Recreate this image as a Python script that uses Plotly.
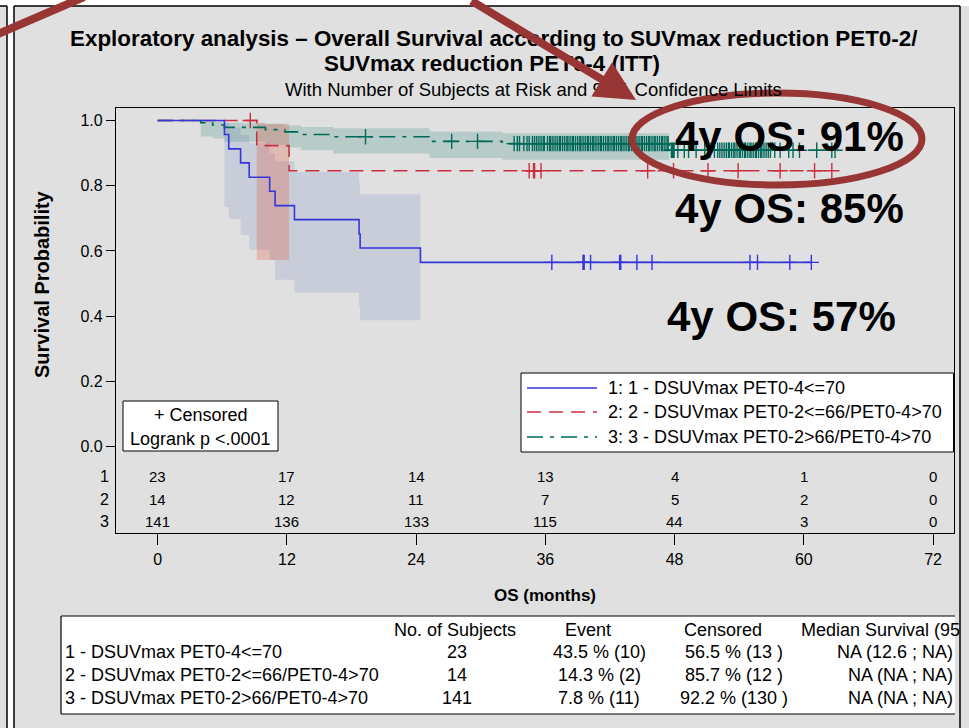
import numpy as np
import plotly.graph_objects as go

W, H = 969, 728

# ---------------- data ----------------
x_ticks = [0, 12, 24, 36, 48, 60, 72]
y_ticks = [0.0, 0.2, 0.4, 0.6, 0.8, 1.0]
y_ticklabels = ["0.0", "0.2", "0.4", "0.6", "0.8", "1.0"]

legend_labels = ["1: 1 - DSUVmax PET0-4<=70",
                 "2: 2 - DSUVmax PET0-2<=66/PET0-4>70",
                 "3: 3 - DSUVmax PET0-2>66/PET0-4>70"]

# group 1
g1_step_t = [0, 6.2, 6.6, 7.7, 8.5, 10.4, 10.9, 12.7, 18.7, 18.8, 24.4]
g1_step_s = [1.0, 0.957, 0.913, 0.870, 0.826, 0.783, 0.739, 0.696, 0.652, 0.609, 0.565]
g1_end = 60.7
g1_cens = [36.6, 39.5, 39.55, 39.6, 40.2, 42.9, 43.0, 44.5, 45.9, 55.0, 55.7, 58.7, 60.7]
g1_band_t = [6.2, 6.6, 7.7, 8.5, 10.4, 10.9, 12.7, 18.7, 18.8, 24.4]
g1_band_lo = [0.735, 0.698, 0.649, 0.604, 0.573, 0.512, 0.472, 0.43, 0.388, 0.388]
g1_band_hi = [0.994, 0.978, 0.956, 0.93, 0.90, 0.875, 0.842, 0.81, 0.774, 0.774]

# group 2
g2_step_t = [0, 9.2, 12.2]
g2_step_s = [1.0, 0.923, 0.846]
g2_end = 62.6
g2_cens = [8.6, 34.5, 34.9, 35.0, 35.6, 45.5, 47.9, 51.1, 53.9, 57.8, 61.0, 62.6]
g2_band_t = [9.2, 12.2]
g2_band_lo = [0.572, 0.572]
g2_band_hi = [0.99, 0.99]

# group 3
g3_step_t = [0, 4.0, 5.1, 6.2, 10.0, 11.8, 13.3, 16.3, 25.2, 25.3, 32.0, 47.5]
g3_step_s = [1.0, 0.993, 0.986, 0.979, 0.972, 0.965, 0.957, 0.950, 0.943, 0.936, 0.929, 0.909]
g3_end = 62.9
g3_cens = [19.3, 27.3, 29.7, 33.1, 33.4, 33.6, 34.0, 34.3, 34.5, 34.8, 35.0, 35.2, 35.4, 35.6, 35.8, 35.9,
           36.2, 36.4, 36.5, 36.7, 36.9, 37.1, 37.3, 37.4, 37.6, 37.8,
           38.0, 38.1, 38.3, 38.5, 38.6, 38.8, 39.0, 39.2, 39.3, 39.5,
           39.7, 39.9, 40.0, 40.2, 40.4, 40.5, 40.7, 40.9, 41.1, 41.2,
           41.4, 41.6, 41.8, 41.9, 42.1, 42.3, 42.4, 42.6, 42.8, 43.0,
           43.1, 43.3, 43.5, 43.7, 43.8, 44.0, 44.2, 44.3, 44.5, 44.7,
           44.9, 45.0, 45.2, 45.4, 45.6, 45.7, 45.9, 46.1, 46.2, 46.4,
           46.6, 46.8, 46.9, 47.1, 47.3, 47.4, 47.7, 47.8, 47.9, 47.95,
           48.3, 48.9, 49.3, 50.0, 50.8, 51.3, 51.7, 52.0, 52.2, 52.4,
           52.6, 52.8, 53.0, 53.1, 53.3, 53.5, 53.6, 53.8, 54.0, 54.1,
           54.3, 54.5, 54.6, 54.8, 55.0, 55.1, 55.3, 55.5, 55.6, 55.8,
           56.0, 56.1, 56.3, 56.5, 56.7, 56.9, 57.3, 57.8, 58.6, 59.0,
           59.6, 61.2, 62.6, 62.9]
g3_band_t = [4.0, 5.1, 6.2, 10.0, 11.8, 13.3, 16.3, 25.2, 25.3, 32.0, 47.5]
g3_band_lo = [0.951, 0.945, 0.935, 0.926, 0.917, 0.909, 0.899, 0.892, 0.885, 0.880, 0.880]
g3_band_hi = [0.999, 0.996, 0.993, 0.989, 0.985, 0.980, 0.976, 0.971, 0.966, 0.961, 0.961]

# number at risk
risk_g1 = [23, 17, 14, 13, 4, 1, 0]
risk_g2 = [14, 12, 11, 7, 5, 2, 0]
risk_g3 = [141, 136, 133, 115, 44, 3, 0]

os_labels = ["4y OS: 91%", "4y OS: 85%", "4y OS: 57%"]

tbl_header = ["No. of Subjects", "Event", "Censored", "Median Survival (95"]
tbl_groups = ["1 - DSUVmax PET0-4<=70", "2 - DSUVmax PET0-2<=66/PET0-4>70", "3 - DSUVmax PET0-2>66/PET0-4>70"]
tbl_n = ["23", "14", "141"]
tbl_event = ["43.5 % (10)", "14.3 % (2)", "7.8 % (11)"]
tbl_cens = ["56.5 % (13 )", "85.7 % (12 )", "92.2 % (130 )"]
tbl_median = ["NA (12.6 ; NA)", "NA (NA ; NA)", "NA (NA ; NA)"]

# ---------------- styles ----------------
C1, C2, C3 = "#3535dc", "#c8303f", "#00695a"
B1, B2, B3 = "rgba(45,80,170,0.13)", "rgba(225,70,45,0.25)", "rgba(20,120,110,0.20)"
D2 = "14px,8px"
D3 = "16px,7px,4px,7px"
ANN = "#983535"
REG = "Liberation Sans, Arial, Helvetica, sans-serif"


def X(px):
    return px / W


def Y(py):
    return 1 - py / H


def step_lookup(ts, ss, c):
    i = int(np.searchsorted(ts, c, side="right")) - 1
    return ss[i]


fig = go.Figure()

# confidence bands
for bt, lo, hi, col in [(g3_band_t, g3_band_lo, g3_band_hi, B3),
                        (g1_band_t, g1_band_lo, g1_band_hi, B1),
                        (g2_band_t, g2_band_lo, g2_band_hi, B2)]:
    fig.add_trace(go.Scatter(x=bt, y=lo, mode="lines", line=dict(width=0, shape="hv"),
                             hoverinfo="skip", showlegend=False))
    fig.add_trace(go.Scatter(x=bt, y=hi, mode="lines", line=dict(width=0, shape="hv"),
                             fill="tonexty", fillcolor=col, hoverinfo="skip", showlegend=False))

# survival curves + censor marks
for st, ss, end, cens, col, dash in [(g3_step_t, g3_step_s, g3_end, g3_cens, C3, D3),
                                     (g2_step_t, g2_step_s, g2_end, g2_cens, C2, D2),
                                     (g1_step_t, g1_step_s, g1_end, g1_cens, C1, "solid")]:
    fig.add_trace(go.Scatter(x=st + [end], y=ss + [ss[-1]], mode="lines",
                             line=dict(color=col, width=1.6, dash=dash, shape="hv"),
                             showlegend=False))
    cy = [step_lookup(st, ss, c) for c in cens]
    fig.add_trace(go.Scatter(x=cens, y=cy, mode="markers",
                             marker=dict(symbol="cross-thin-open", size=11, color=col,
                                         line=dict(color=col, width=1.4)),
                             showlegend=False))

shapes = []
ann = []

# background panels
shapes.append(dict(type="rect", xref="paper", yref="paper", x0=X(0), x1=X(7), y0=Y(728), y1=Y(6),
                   fillcolor="#e0e0e0", line=dict(width=0), layer="below"))
shapes.append(dict(type="rect", xref="paper", yref="paper", x0=X(14), x1=X(969), y0=Y(728), y1=Y(6),
                   fillcolor="#e0e0e0", line=dict(width=0), layer="below"))
for (xa, ya, xb, yb) in [(7, 6, 7, 728), (14, 6, 14, 728), (0, 6, 7, 6), (14, 6, 960, 6), (960, 6, 960, 728)]:
    shapes.append(dict(type="line", xref="paper", yref="paper", x0=X(xa), y0=Y(ya), x1=X(xb), y1=Y(yb),
                       line=dict(color="black", width=1.5), layer="below"))

# legend box
LF = dict(family=REG, size=18, color="black")
shapes.append(dict(type="rect", xref="paper", yref="paper", x0=X(521), x1=X(953.5), y0=Y(452), y1=Y(373),
                   fillcolor="white", line=dict(color="black", width=1)))
for i, (col, dash) in enumerate([(C1, "solid"), (C2, D2), (C3, D3)]):
    yy = [388, 412, 437][i]
    shapes.append(dict(type="line", xref="paper", yref="paper", x0=X(527), x1=X(597), y0=Y(yy), y1=Y(yy),
                       line=dict(color=col, width=1.6, dash=dash)))
    ann.append(dict(x=X(606), y=Y(yy), xref="paper", yref="paper", text=legend_labels[i], showarrow=False,
                    xanchor="left", yanchor="middle", font=LF))

# censored box
shapes.append(dict(type="rect", xref="paper", yref="paper", x0=X(123), x1=X(278), y0=Y(451), y1=Y(401),
                   fillcolor="white", line=dict(color="black", width=1)))
ann.append(dict(x=X(200.5), y=Y(415), xref="paper", yref="paper", text="+ Censored", showarrow=False,
                xanchor="center", yanchor="middle", font=LF))
ann.append(dict(x=X(200.5), y=Y(439), xref="paper", yref="paper", text="Logrank p <.0001", showarrow=False,
                xanchor="center", yanchor="middle", font=LF))

# number at risk
risk_y = [-0.092, -0.161, -0.230]
RF = dict(family=REG, size=15, color="black")
for gi, row in enumerate([risk_g1, risk_g2, risk_g3]):
    ann.append(dict(x=X(104), y=risk_y[gi], xref="paper", yref="y", text=str(gi + 1), showarrow=False,
                    xanchor="center", yanchor="middle", font=dict(family=REG, size=16, color="black")))
    for t, v in zip(x_ticks, row):
        ann.append(dict(x=t, y=risk_y[gi], xref="x", yref="y", text=str(v), showarrow=False,
                        xanchor="center", yanchor="middle", font=RF))

# axis titles
ann.append(dict(x=X(545), y=Y(595), xref="paper", yref="paper", text="<b>OS (months)</b>", showarrow=False,
                xanchor="center", yanchor="middle", font=dict(family=REG, size=17, color="black")))
ann.append(dict(x=X(42), y=Y(284), xref="paper", yref="paper", text="<b>Survival Probability</b>",
                showarrow=False, textangle=-90, xanchor="center", yanchor="middle",
                font=dict(family=REG, size=20, color="black")))

# bottom table
shapes.append(dict(type="rect", xref="paper", yref="paper", x0=X(61), x1=X(955), y0=Y(714), y1=Y(616),
                   fillcolor="white", line=dict(width=0)))
for (xa, ya, xb, yb) in [(61, 616, 955, 616), (61, 714, 955, 714), (61, 616, 61, 714)]:
    shapes.append(dict(type="line", xref="paper", yref="paper", x0=X(xa), y0=Y(ya), x1=X(xb), y1=Y(yb),
                       line=dict(color="black", width=1.2)))
TF = dict(family=REG, size=18, color="black")
ann.append(dict(x=X(455), y=Y(630), xref="paper", yref="paper", text=tbl_header[0], showarrow=False,
                xanchor="center", yanchor="middle", font=TF))
ann.append(dict(x=X(588), y=Y(630), xref="paper", yref="paper", text=tbl_header[1], showarrow=False,
                xanchor="center", yanchor="middle", font=TF))
ann.append(dict(x=X(723), y=Y(630), xref="paper", yref="paper", text=tbl_header[2], showarrow=False,
                xanchor="center", yanchor="middle", font=TF))
ann.append(dict(x=X(799), y=Y(630), xref="paper", yref="paper", text=tbl_header[3], showarrow=False,
                xanchor="left", yanchor="middle", font=TF))
for i in range(3):
    yy = [652, 675, 698][i]
    ann.append(dict(x=X(63), y=Y(yy), xref="paper", yref="paper", text=tbl_groups[i], showarrow=False,
                    xanchor="left", yanchor="middle", font=TF))
    ann.append(dict(x=X(457), y=Y(yy), xref="paper", yref="paper", text=tbl_n[i], showarrow=False,
                    xanchor="center", yanchor="middle", font=TF))
    ann.append(dict(x=X(599), y=Y(yy), xref="paper", yref="paper", text=tbl_event[i], showarrow=False,
                    xanchor="center", yanchor="middle", font=TF))
    ann.append(dict(x=X(734), y=Y(yy), xref="paper", yref="paper", text=tbl_cens[i], showarrow=False,
                    xanchor="center", yanchor="middle", font=TF))
    ann.append(dict(x=X(955), y=Y(yy), xref="paper", yref="paper", text=tbl_median[i], showarrow=False,
                    xanchor="right", yanchor="middle", font=TF))

# 4y OS labels
for txt, (cx, cy) in zip(os_labels, [(789, 136), (789, 208), (781, 316)]):
    ann.append(dict(x=X(cx), y=Y(cy), xref="paper", yref="paper", text="<b>" + txt + "</b>", showarrow=False,
                    xanchor="center", yanchor="middle", font=dict(family=REG, size=42, color="black")))

# titles
ann.append(dict(x=X(494), y=Y(38), xref="paper", yref="paper",
                text="<b>Exploratory analysis \u2013 Overall Survival according to SUVmax reduction PET0-2/</b>",
                showarrow=False, xanchor="center", yanchor="middle", font=dict(family=REG, size=22.4, color="black")))
ann.append(dict(x=X(492), y=Y(63), xref="paper", yref="paper",
                text="<b>SUVmax reduction PET0-4 (ITT)</b>",
                showarrow=False, xanchor="center", yanchor="middle", font=dict(family=REG, size=22.4, color="black")))
ann.append(dict(x=X(533), y=Y(89), xref="paper", yref="paper",
                text="With Number of Subjects at Risk and 95% Confidence Limits",
                showarrow=False, xanchor="center", yanchor="middle", font=dict(family=REG, size=18.5, color="black")))

# red annotation marks (drawn over the titles)
shapes.append(dict(type="circle", xref="paper", yref="paper", x0=X(632), x1=X(922), y0=Y(185), y1=Y(93),
                   line=dict(color=ANN, width=7)))
shapes.append(dict(type="line", xref="paper", yref="paper", x0=X(-2), y0=Y(34), x1=X(84), y1=Y(-3),
                   line=dict(color=ANN, width=8)))
ann.append(dict(x=X(636), y=Y(100), xref="paper", yref="paper", text="", showarrow=True,
                ax=470 - 636, ay=-4 - 100, axref="pixel", ayref="pixel",
                arrowhead=2, arrowsize=1.0, arrowwidth=8, arrowcolor=ANN, standoff=0))

fig.update_layout(
    width=W, height=H, autosize=False,
    margin=dict(l=0, r=0, t=0, b=0),
    paper_bgcolor="white", plot_bgcolor="white",
    shapes=shapes, annotations=ann, showlegend=False,
    xaxis=dict(domain=[X(116), X(953.5)], range=[-3.87, 73.9], tickvals=x_ticks,
               ticks="outside", ticklen=11, tickwidth=1, tickcolor="black",
               showline=True, mirror=True, linecolor="black", linewidth=1.2,
               showgrid=False, zeroline=False,
               tickfont=dict(family=REG, size=16, color="black")),
    yaxis=dict(domain=[Y(533.3), Y(108.3)], range=[-0.2655, 1.0374], tickvals=y_ticks,
               ticktext=y_ticklabels, ticks="outside", ticklen=9, tickwidth=1, tickcolor="black",
               showline=True, mirror=True, linecolor="black", linewidth=1.2,
               showgrid=False, zeroline=False,
               tickfont=dict(family=REG, size=16, color="black")),
)

fig.write_html("out.html", config={"displayModeBar": False},
               post_script="document.body.style.margin='0';document.body.style.overflow='hidden';")
